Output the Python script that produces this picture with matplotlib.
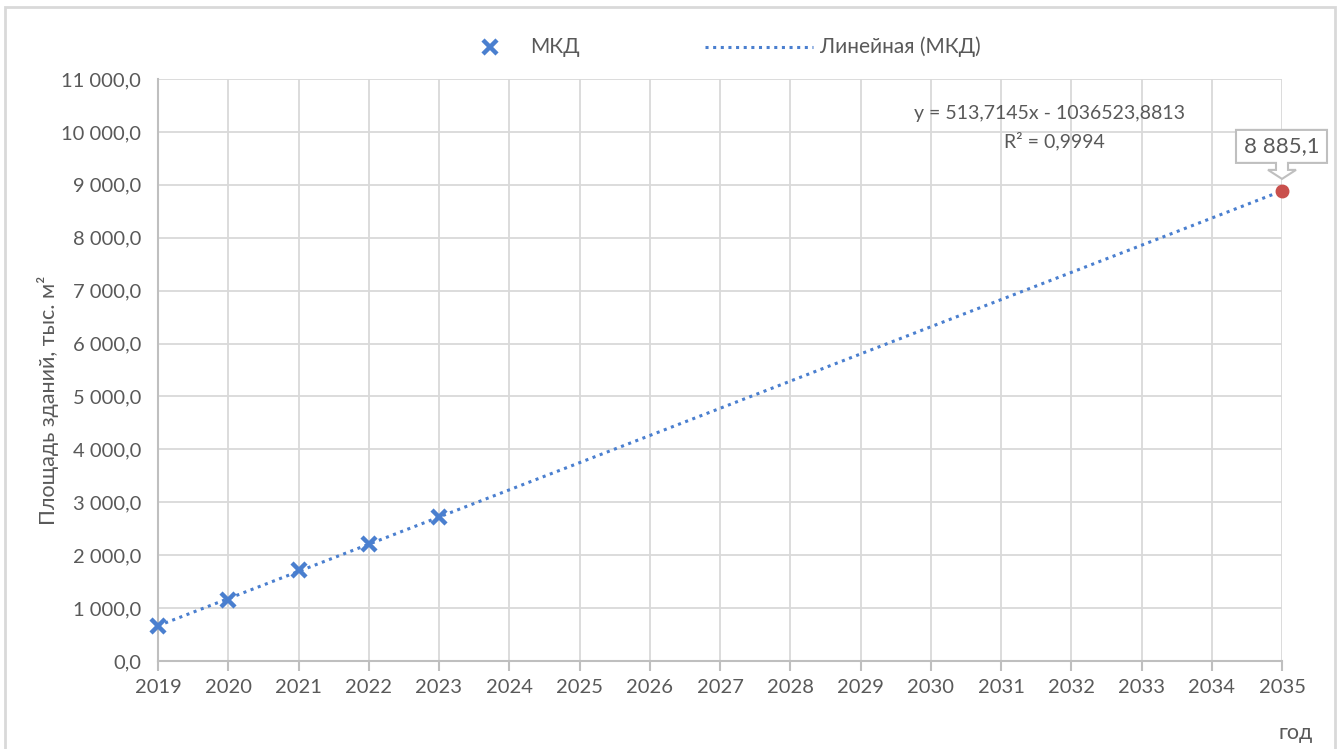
import matplotlib
matplotlib.use("Agg")
import matplotlib.pyplot as plt
from matplotlib.lines import Line2D
from matplotlib.patches import Polygon, Rectangle
from matplotlib.transforms import Affine2D
from matplotlib.ticker import FuncFormatter

# data
years = [2019, 2020, 2021, 2022, 2023]
area = [670, 1150, 1720, 2205, 2715]
trend_slope = 513.7145
trend_intercept = -1036523.8813
trend_years = [2019, 2035]
forecast_year = 2035
forecast_value = 8885.1
xticks = list(range(2019, 2036))
yticks = list(range(0, 11001, 1000))

blue = '#4a7fcf'
red = '#c9504d'
txt = '#595959'
grid = '#d9d9d9'
axc = '#bfbfbf'

plt.rcParams['font.family'] = ['Lato', 'DejaVu Sans']

fig = plt.figure(figsize=(13.4, 7.49), dpi=100)
ax = fig.add_axes([158/1340, 1-661/749, (1282-158)/1340, (661-79)/749])

ax.set_xlim(2019, 2035)
ax.set_ylim(0, 11000)
ax.set_xticks(xticks)
ax.set_yticks(yticks)
ax.yaxis.set_major_formatter(FuncFormatter(
    lambda v, p: f"{v:,.1f}".replace(',', ' ').replace('.', ',')))
ax.grid(True, color=grid, linewidth=1.3)
ax.set_axisbelow(True)
for s in ['top', 'right']:
    ax.spines[s].set_visible(False)
for s in ['left', 'bottom']:
    ax.spines[s].set_color(axc)
    ax.spines[s].set_linewidth(1.5)
ax.tick_params(axis='x', colors=axc, length=7, width=1.5, labelcolor=txt,
               labelsize=14.5, pad=6)
ax.tick_params(axis='y', length=0, labelcolor=txt, labelsize=14.5, pad=12)

trend_vals = [trend_slope * x + trend_intercept for x in trend_years]
ax.plot(trend_years, trend_vals, color=blue, lw=2.2, linestyle=(0, (1, 1.5)),
        dash_capstyle='butt', clip_on=False)
ax.plot(years, area, 'x', color=blue, markersize=10, markeredgewidth=3.2,
        clip_on=False, zorder=5)
ax.plot([forecast_year], [forecast_value], 'o', color=red, markersize=9,
        clip_on=False, zorder=6)

# callout
px, py = ax.transData.transform((forecast_year, forecast_value))
verts = [(-46, 28), (-6, 28), (-6, 21), (-14, 21), (0, 12), (14, 21), (6, 21),
         (6, 28), (45, 28), (45, 61), (-46, 61)]
callout = Polygon(verts, closed=True, facecolor='white', edgecolor=axc, lw=1.5,
                  transform=Affine2D().translate(px, py), zorder=7, clip_on=False)
ax.add_patch(callout)
callout.set_transform(Affine2D().translate(px, py))
ax.annotate("8 885,1", (forecast_year, forecast_value), xytext=(0, 44.5),
            textcoords='offset pixels', ha='center', va='center', fontsize=16,
            color=txt, zorder=8, annotation_clip=False)

fig.text(1050/1340, 1-113/749, "y = 513,7145x - 1036523,8813", ha='center',
         va='center', fontsize=14, color=txt)
fig.text(1054/1340, 1-141/749, "R² = 0,9994", ha='center', va='center',
         fontsize=14, color=txt)

# legend
fig.add_artist(Line2D([490/1340], [1-47/749], marker='x', color=blue,
                      markersize=10, markeredgewidth=3.2, linestyle='none'))
fig.text(530/1340, 1-47/749, "МКД", ha='left', va='center', fontsize=15, color=txt)
fig.add_artist(Line2D([705/1340, 813/1340], [1-47/749, 1-47/749], color=blue,
                      lw=2.2, linestyle=(0, (1, 1.5)), dash_capstyle='butt'))
fig.text(820/1340, 1-47/749, "Линейная (МКД)", ha='left', va='center',
         fontsize=15, color=txt)

fig.text(48/1340, 1-400/749, "Площадь зданий, тыс. м²", rotation=90,
         ha='center', va='center', fontsize=15.5, color=txt)
fig.text(1296/1340, 1-733/749, "год", ha='center', va='center', fontsize=15.5,
         color=txt)

fig.add_artist(Rectangle((5/1340, -0.02), 1330/1340, 1.02-7/749, fill=False,
                         edgecolor='#d9d9d9', lw=2, transform=fig.transFigure))

fig.savefig('out.png', dpi=100)
